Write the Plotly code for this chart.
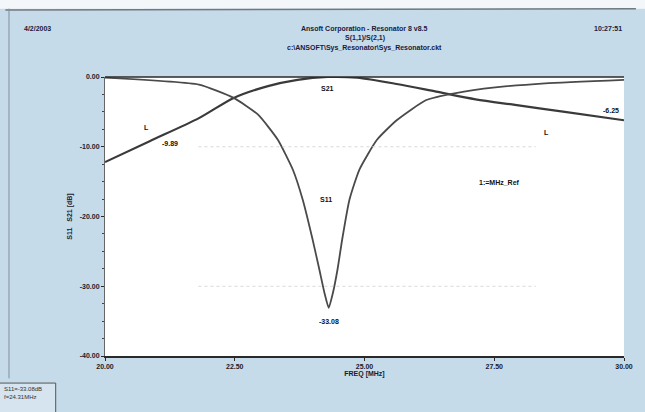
import plotly.graph_objects as go

# Frequency sweep (MHz) and measured responses (dB)
freq_s21 = [20.00, 20.86, 21.81, 22.48, 23.14, 23.71, 24.29, 24.86, 25.62, 26.38, 27.14, 27.90, 28.86, 30.00]
s21_db = [-12.2, -9.2, -5.9, -3.0, -1.3, -0.4, 0.0, -0.1, -1.0, -2.1, -3.2, -4.0, -5.0, -6.2]

freq_s11 = [20.00, 21.81, 22.48, 22.95, 23.33, 23.62, 23.81, 24.00, 24.13, 24.23, 24.31,
            24.39, 24.48, 24.57, 24.71, 24.90, 25.24, 25.62, 26.19, 26.76, 27.52, 28.48, 30.00]
s11_db = [-0.1, -1.1, -3.0, -5.4, -9.0, -13.3, -17.6, -23.3, -27.6, -31.0, -33.1,
          -31.0, -27.6, -23.3, -17.6, -13.3, -9.0, -6.2, -3.3, -2.3, -1.5, -0.9, -0.4]

x_ticks = [20.0, 22.5, 25.0, 27.5, 30.0]
x_tick_text = ["20.00", "22.50", "25.00", "27.50", "30.00"]
y_ticks = [0, -10, -20, -30, -40]
y_tick_text = ["0.00", "-10.00", "-20.00", "-30.00", "-40.00"]

bg = "#c6dbea"
ink = "#2a2a2a"
tick_font = dict(family="Liberation Sans", size=7, color="#1a1a2a")
label_font = dict(size=7, family="Liberation Sans", color="#111")

fig = go.Figure()
fig.add_trace(go.Scatter(x=freq_s21, y=s21_db, mode="lines", name="S21",
                         line=dict(color="#3a3a3a", width=2.2, shape="spline", smoothing=0.8)))
fig.add_trace(go.Scatter(x=freq_s11, y=s11_db, mode="lines", name="S11",
                         line=dict(color="#4a4a4a", width=1.8, shape="spline", smoothing=0.5)))

annotations = [
    dict(x=24.29, y=-1.6, text="<b>S21</b>", showarrow=False, font=label_font),
    dict(x=24.25, y=-17.5, text="<b>S11</b>", showarrow=False, font=label_font),
    dict(x=24.31, y=-35.0, text="<b>-33.08</b>", showarrow=False, font=label_font),
    dict(x=21.25, y=-9.6, text="<b>-9.89</b>", showarrow=False, font=label_font),
    dict(x=29.75, y=-4.8, text="<b>-6.25</b>", showarrow=False, font=label_font),
    dict(x=20.8, y=-7.2, text="<b>L</b>", showarrow=False, font=label_font),
    dict(x=28.5, y=-7.9, text="<b>L</b>", showarrow=False, font=label_font),
    dict(x=27.6, y=-15.1, text="<b>1:=MHz_Ref</b>", showarrow=False, font=label_font),
    # window header
    dict(xref="paper", yref="paper", x=0.5, y=1.195, text="<b>Ansoft Corporation - Resonator 8 v8.5</b>",
         showarrow=False, font=dict(size=7, family="Liberation Sans", color="#1a1a40")),
    dict(xref="paper", yref="paper", x=0.5, y=1.16, text="<b>S(1,1)/S(2,1)</b>",
         showarrow=False, font=dict(size=7, family="Liberation Sans", color="#1a1a40")),
    dict(xref="paper", yref="paper", x=0.5, y=1.125, text="<b>c:\\ANSOFT\\Sys_Resonator\\Sys_Resonator.ckt</b>",
         showarrow=False, font=dict(size=7, family="Liberation Sans", color="#1a1a40")),
    dict(xref="paper", yref="paper", x=-0.16, y=1.195, text="<b>4/2/2003</b>", xanchor="left",
         showarrow=False, font=dict(size=7, family="Liberation Sans", color="#1a1a40")),
    dict(xref="paper", yref="paper", x=1.0, y=1.195, text="<b>10:27:51</b>", xanchor="right",
         showarrow=False, font=dict(size=7, family="Liberation Sans", color="#1a1a40")),
    # readout box
    dict(xref="paper", yref="paper", x=-0.198, y=-0.1, xanchor="left", yanchor="top", align="left",
         text="S11=-33.08dB<br>f=24.31MHz", showarrow=False,
         font=dict(size=6, family="Liberation Sans", color="#333")),
]

shapes = [
    dict(type="line", xref="x", yref="y", x0=21.8, x1=28.3, y0=-10, y1=-10,
         line=dict(color="#d8d8d8", width=1, dash="dot")),
    dict(type="line", xref="x", yref="y", x0=21.8, x1=28.3, y0=-30, y1=-30,
         line=dict(color="#d8d8d8", width=1, dash="dot")),
    # white strip above the window
    dict(type="rect", xref="paper", yref="paper", x0=-0.25, x1=1.05, y0=1.245, y1=1.3,
         line=dict(width=0), fillcolor="#f4f7fa"),
    # window frame
    dict(type="line", xref="paper", yref="paper", x0=-0.192, x1=1.023, y0=1.24, y1=1.245,
         line=dict(color="#707880", width=1.5)),
    dict(type="line", xref="paper", yref="paper", x0=-0.185, x1=-0.185, y0=1.245, y1=-0.08,
         line=dict(color="#8090a0", width=1)),
    dict(type="rect", xref="paper", yref="paper", x0=-0.21, x1=-0.095, y0=-0.097, y1=-0.22,
         line=dict(color="#555", width=1), fillcolor="rgba(220,232,240,0.7)"),
]

fig.update_layout(
    width=645, height=412,
    margin=dict(l=105, r=15, t=77, b=56),
    paper_bgcolor=bg, plot_bgcolor="white",
    showlegend=False,
    annotations=annotations, shapes=shapes,
    font=dict(family="Liberation Sans"),
)
fig.update_xaxes(range=[20, 30], tickvals=x_ticks, ticktext=[f"<b>{t}</b>" for t in x_tick_text],
                 tickfont=tick_font,
                 showgrid=False, zeroline=False, showline=True, linecolor=ink, linewidth=1.5,
                 ticks="outside", ticklen=3, tickcolor=ink,
                 title=dict(text="<b>FREQ [MHz]</b>", font=dict(size=7, color="#1a1a2a"), standoff=2))
fig.update_yaxes(range=[-40, 0], tickvals=y_ticks, ticktext=[f"<b>{t}</b>" for t in y_tick_text],
                 tickfont=tick_font,
                 showgrid=False, zeroline=False, showline=True, linecolor="#666", linewidth=1,
                 ticks="outside", ticklen=3, tickcolor=ink,
                 minor=dict(ticks="outside", ticklen=2, dtick=2.5, tickcolor="#444"),
                 title=dict(text="<b>S11   S21 [dB]</b>", font=dict(size=7, color="#1a1a2a"), standoff=6))
fig.add_shape(type="line", xref="paper", yref="paper", x0=0, x1=1, y0=1, y1=1,
              line=dict(color=ink, width=1.5))

fig.write_html("out.html")
